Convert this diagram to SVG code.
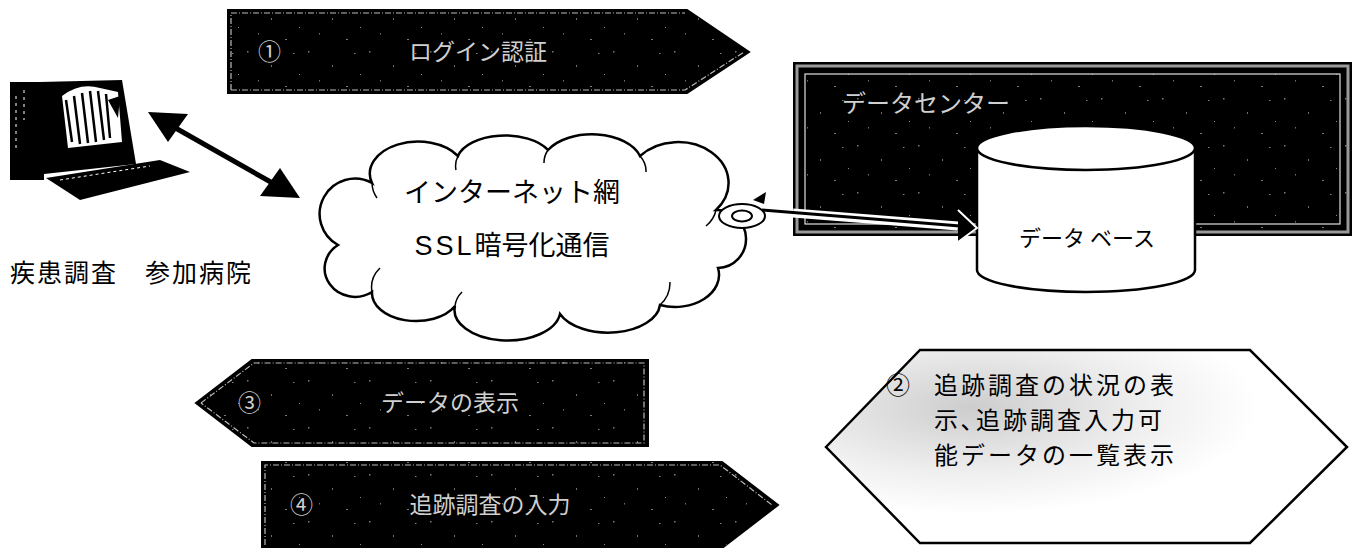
<svg xmlns="http://www.w3.org/2000/svg" width="1361" height="548" viewBox="0 0 1361 548">
  <defs>
    <style>
      .band { fill: #000; stroke: #000; stroke-width: 2; }
      .band-edge { fill: none; stroke: #bbb; stroke-width: 1.2; stroke-dasharray: 6 2 1 2; }
      .band-text { font-family: "Noto Sans CJK JP", sans-serif; font-size: 23px; fill: #cfcfcf; }
      .dark-label { font-family: "Noto Sans CJK JP", sans-serif; fill: #d0d0d0; }
      .outline { fill: #fff; stroke: #000; stroke-width: 2.5; }
      .black-text { font-family: "Noto Sans CJK JP", "Liberation Sans", sans-serif; fill: #000; }
      .grain { fill: url(#dots); opacity: 0.55; }
    </style>
    <!-- sparse light speckle used over the dark bands -->
    <pattern id="dots" width="61" height="47" patternUnits="userSpaceOnUse">
      <rect x="3" y="4" width="1.5" height="1.5" fill="#ddd"/>
      <rect x="27" y="18" width="1" height="2" fill="#ccc"/>
      <rect x="49" y="6" width="1.5" height="1" fill="#eee"/>
      <rect x="14" y="33" width="1" height="1.5" fill="#ccc"/>
      <rect x="41" y="39" width="2" height="1" fill="#ddd"/>
      <rect x="55" y="27" width="1" height="1" fill="#fff"/>
    </pattern>
    <radialGradient id="speck" cx="0.28" cy="0.3" r="0.55">
      <stop offset="0" stop-color="#cdcdcd"/>
      <stop offset="0.6" stop-color="#eeeeee"/>
      <stop offset="1" stop-color="#fff"/>
    </radialGradient>
  </defs>

  <rect width="1361" height="548" fill="#fff"/>

  <!-- hospital workstation -->
  <g id="hospital">
    <rect x="10" y="82" width="34" height="98" fill="#000"/>
    <path d="M40,82 L122,80 L136,164 L44,174 Z" fill="#000"/>
    <path d="M62,96 Q80,82 100,88 L118,92 L122,142 L68,148 Z" fill="#fff"/>
    <path d="M66,100 L72,142 M74,96 L80,144 M82,93 L88,143 M90,91 L96,142 M98,91 L104,140 M106,94 L110,138" stroke="#000" stroke-width="2.5"/>
    <path d="M108,100 L120,96 L118,118 Z" fill="#000"/>
    <path d="M16,96 L16,150 M24,90 L24,120" stroke="#fff" stroke-width="1" stroke-dasharray="3 4"/>
    <path d="M46,178 L160,160 L190,172 L80,200 Z" fill="#000"/>
    <path d="M60,180 L150,166" stroke="#fff" stroke-width="1" stroke-dasharray="3 3"/>
    <text class="black-text" x="10" y="282" font-size="25" letter-spacing="2">疾患調査　参加病院</text>
  </g>

  <!-- internet cloud -->
  <g id="internet">
    <path class="outline" d="M338,245 A30,30 0 0 1 372,183 A48,32 0 0 1 458,156 A48,26 0 0 1 548,150 A50,30 0 0 1 640,156 A42,34 0 0 1 716,210 A28,28 0 0 1 718,268 A44,32 0 0 1 660,305 A52,30 0 0 1 560,314 A52,30 0 0 1 455,306 A44,28 0 0 1 372,292 A30,28 0 0 1 338,245 Z"/>
    <path d="M372,183 A30,28 0 0 0 377,198 M458,156 A30,25 0 0 0 456,170 M548,150 A30,25 0 0 0 544,163 M640,156 A30,25 0 0 1 646,172 M716,210 A30,28 0 0 1 706,226 M660,305 A30,30 0 0 0 670,282 M455,306 A30,25 0 0 1 462,292 M372,292 A30,28 0 0 1 380,268" fill="none" stroke="#000" stroke-width="1.5"/>
    <text class="black-text" x="512" y="202" font-size="27" text-anchor="middle">インターネット網</text>
    <text class="black-text" x="512" y="255" font-size="27" text-anchor="middle"><tspan font-family="Liberation Sans, sans-serif" letter-spacing="3">SSL</tspan>暗号化通信</text>
  </g>

  <!-- data center -->
  <g id="datacenter">
    <rect x="793" y="62" width="559" height="174" fill="#000"/>
    <rect x="793" y="62" width="559" height="174" class="grain"/>
    <rect x="797" y="66" width="551" height="166" fill="none" stroke="#9a9a9a" stroke-width="3"/>
    <rect x="805" y="74" width="535" height="150" fill="none" stroke="#e0e0e0" stroke-width="1.2"/>
    <text class="dark-label" x="842" y="112" font-size="24">データセンター</text>
  </g>

  <!-- database cylinder -->
  <g id="database">
    <path class="outline" d="M977,148 L977,270 A109,22 0 0 0 1195,270 L1195,148"/>
    <ellipse class="outline" cx="1086" cy="148" rx="109" ry="22"/>
    <text class="black-text" x="1087" y="246" font-size="22" text-anchor="middle">データ ベース</text>
  </g>

  <!-- SSL endpoint disc -->
  <g id="ssl-disc">
    <ellipse cx="742" cy="216" rx="23" ry="12" fill="#fff" stroke="#000" stroke-width="2"/>
    <ellipse cx="742" cy="216" rx="10" ry="5.5" fill="#fff" stroke="#000" stroke-width="2"/>
  </g>

  <!-- step ① -->
  <g id="step1">
    <polygon class="band" points="228,10 687,10 749,52 687,93 228,93"/>
    <polygon class="grain" points="228,10 687,10 749,52 687,93 228,93"/>
    <polyline class="band-edge" points="231,90 231,13 685,13"/>
    <polyline class="band-edge" points="231,90 685,90 744,52"/>
    <text class="band-text" x="258" y="60">①</text>
    <text class="band-text" x="478" y="60" text-anchor="middle">ログイン認証</text>
  </g>

  <!-- step ③ -->
  <g id="step3">
    <polygon class="band" points="196,403 252,360 648,360 648,446 252,446"/>
    <polygon class="grain" points="196,403 252,360 648,360 648,446 252,446"/>
    <polyline class="band-edge" points="201,403 254,363 644,363 644,443 254,443 201,403"/>
    <text class="band-text" x="238" y="411">③</text>
    <text class="band-text" x="450" y="411" text-anchor="middle">データの表示</text>
  </g>

  <!-- step ④ -->
  <g id="step4">
    <polygon class="band" points="262,462 722,462 778,505 722,548 262,548"/>
    <polygon class="grain" points="262,462 722,462 778,505 722,548 262,548"/>
    <polyline class="band-edge" points="265,545 265,465 720,465 772,505"/>
    <text class="band-text" x="290" y="513">④</text>
    <text class="band-text" x="490" y="513" text-anchor="middle">追跡調査の入力</text>
  </g>

  <!-- step ② -->
  <g id="step2">
    <polygon points="826,447 920,350 1250,350 1347,447 1250,543 920,543" fill="url(#speck)" stroke="#000" stroke-width="2.5"/>
    <text class="black-text" font-size="24" letter-spacing="3">
      <tspan x="886" y="394">②</tspan><tspan x="934" y="394">追跡調査の状況の表</tspan>
      <tspan x="934" y="429">示､追跡調査入力可</tspan>
      <tspan x="934" y="464">能データの一覧表示</tspan>
    </text>
  </g>

  <!-- connectors -->
  <g id="connectors">
    <line x1="172" y1="126" x2="276" y2="185" stroke="#000" stroke-width="5"/>
    <polygon points="148,112 188,114 168,142" fill="#000"/>
    <polygon points="300,198 260,196 280,168" fill="#000"/>
    <path d="M753,200 L766,192 L764,204 Z" fill="#000"/>
    <line x1="793" y1="213" x2="958" y2="226" stroke="#fff" stroke-width="9"/>
    <line x1="762" y1="210" x2="960" y2="226" stroke="#000" stroke-width="3"/>
    <path d="M958,210 L977,228 L958,242" fill="#000" stroke="#fff" stroke-width="2"/>
  </g>
</svg>
